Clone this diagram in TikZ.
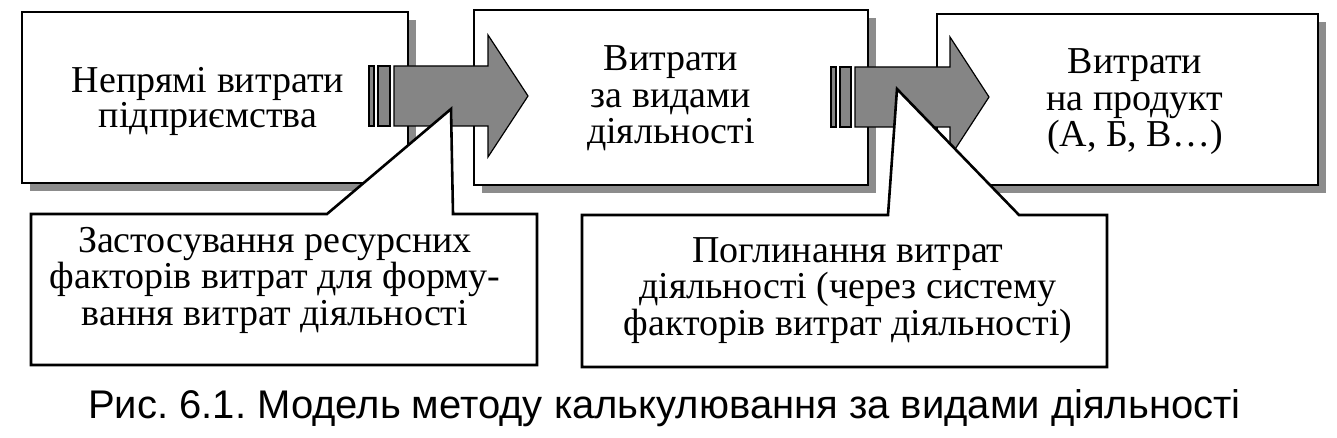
\documentclass[tikz,border=0pt]{standalone}
\usepackage{fontspec}
\setmainfont{Liberation Serif}
\newfontfamily\capfont{Liberation Sans}
\usetikzlibrary{shadows}
\frenchspacing
\begin{document}
\begin{tikzpicture}[x=1pt,y=-1pt,
  box/.style={draw=black,line width=2.6pt,fill=white,inner sep=0pt,
    drop shadow={shadow xshift=8pt,shadow yshift=-8pt,fill=black!45,opacity=1}},
  arr/.style={draw=black,line width=1.2pt,fill=black!48,line join=miter},
  callout/.style={draw=black,line width=2.6pt,fill=white,line join=miter},
  txt/.style={font=\fontsize{38}{36.5}\selectfont,align=center,anchor=base,inner sep=0pt}]
\useasboundingbox[fill=white] (0,0) rectangle (1337,438);
% boxes
\node[box,minimum width=386pt,minimum height=171pt] (b1) at (215,97.5) {};
\node[box,minimum width=394pt,minimum height=175pt] (b2) at (671,97.5) {};
\node[box,minimum width=381pt,minimum height=171pt] (b3) at (1127.5,99.5) {};
% arrow 1
\draw[arr] (369,66) rectangle (374,126);
\draw[arr] (378,66) rectangle (390,126);
\draw[arr] (394,66) -- (488,66) -- (488,35) -- (528,96) -- (488,157) -- (488,126) -- (394,126) -- cycle;
% arrow 2
\draw[arr] (831,67) rectangle (836,127);
\draw[arr] (840,67) rectangle (851,127);
\draw[arr] (855,67) -- (950,67) -- (950,37) -- (989,97) -- (950,157) -- (950,127) -- (855,127) -- cycle;
% callouts
\draw[callout] (31,214) -- (327,214) -- (451,109) -- (453,214) -- (537,214) -- (537,365) -- (31,365) -- cycle;
\draw[callout] (582,215) -- (888,215) -- (897,89) -- (1019,215) -- (1107,215) -- (1107,367) -- (582,367) -- cycle;
% texts (base anchor = baseline of the last line)
\node[txt,font=\fontsize{38}{35}\selectfont] (t1) at (208,128) {Непрямі витрати\\підприємства};
\node[txt] (t2) at (671,144) {Витрати\\за видами\\діяльності};
\node[txt] (t3) at (1135,147) {Витрати\\на продукт\\(А, Б, В…)};
\node[txt] (c1) at (275,325) {Застосування ресурсних\\факторів витрат для форму-\\вання витрат діяльності};
\node[txt] (c2) at (848,335) {Поглинання витрат\\діяльності (через систему\\факторів витрат діяльності)};
\node[anchor=base west,inner sep=0pt,font=\capfont\fontsize{40}{42}\selectfont] (cap) at (88,418) {Рис. 6.1. Модель методу калькулювання за видами діяльності};
\end{tikzpicture}
\end{document}
